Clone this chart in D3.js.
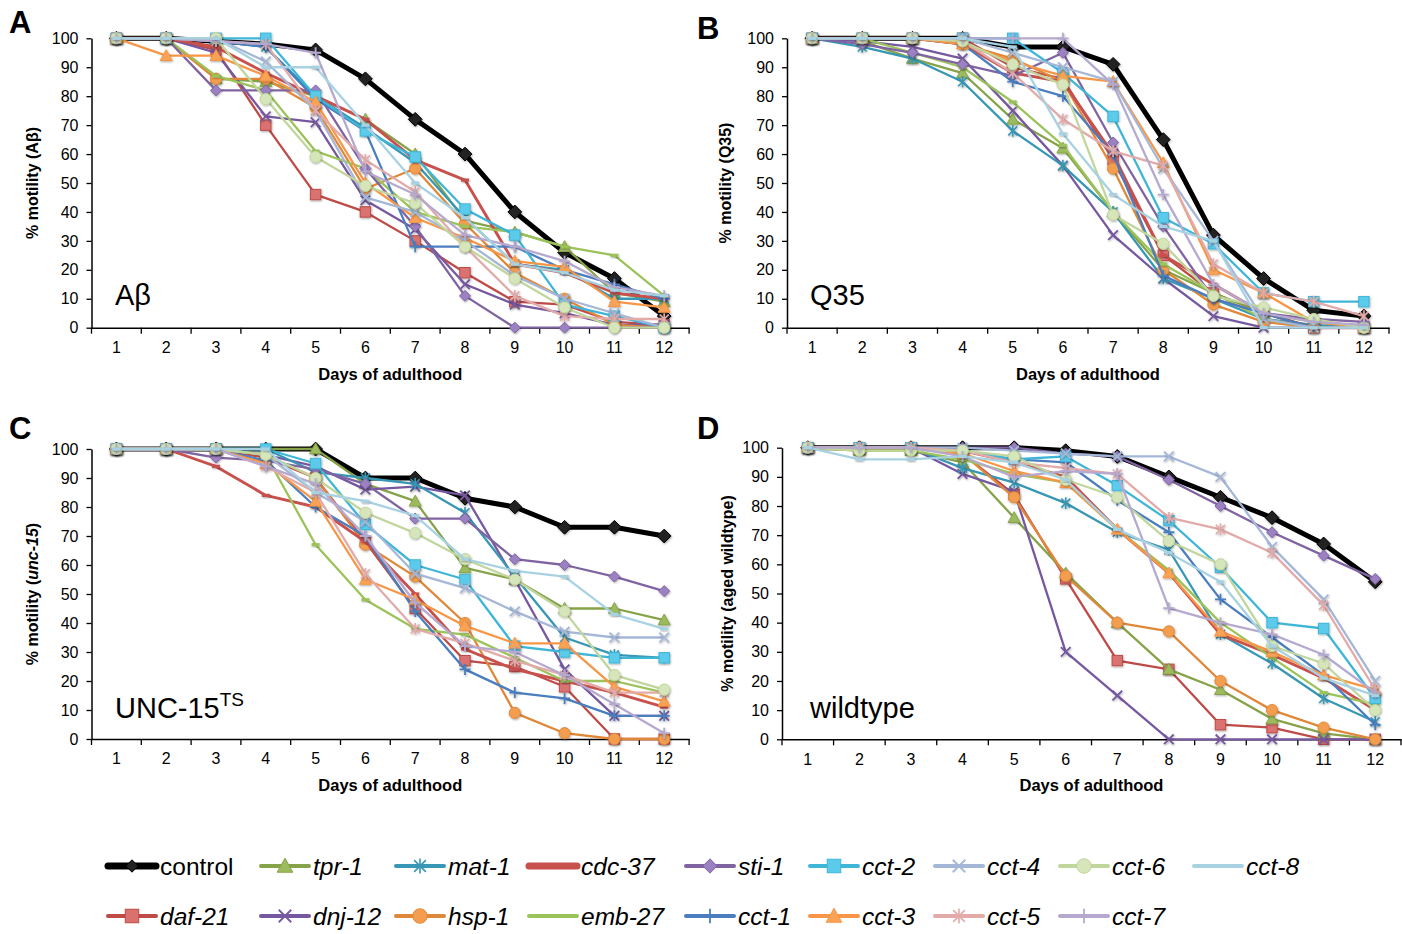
<!DOCTYPE html>
<html><head><meta charset="utf-8">
<script src="https://cdn.jsdelivr.net/npm/d3@7"></script>
<style>
body{margin:0;background:#fff;}
svg{display:block;font-family:"Liberation Sans",Arial,Helvetica,sans-serif;}
</style>
</head><body>
<svg id="chart" width="1402" height="934"></svg>
<script>
// ---------------- DATA ----------------
const days = [1,2,3,4,5,6,7,8,9,10,11,12];
const yTicks = [0,10,20,30,40,50,60,70,80,90,100];
const seriesNames = ["control","daf-21","tpr-1","dnj-12","mat-1","hsp-1","cdc-37","emb-27","sti-1","cct-1","cct-2","cct-3","cct-4","cct-5","cct-6","cct-7","cct-8"];

// Panel A (Abeta) – rows follow seriesNames
const valuesA = [
  [100,100,99,98,96,86,72,60,40,26,17,4],
  [100,100,96,70,46,40,30,19,9,8,2,1],
  [100,100,86,85,80,72,60,37,33,28,12,9],
  [100,100,95,73,71,44,34,15,8,5,1,1],
  [100,100,99,97,80,69,57,38,22,20,10,10],
  [100,100,86,86,76,48,55,36,19,10,1,0],
  [100,100,97,88,80,72,58,51,22,19,12,10],
  [100,100,87,82,61,55,40,35,33,28,25,11],
  [100,100,82,82,82,55,35,11,0,0,0,0],
  [100,100,99,97,79,68,28,28,28,20,15,10],
  [100,100,100,100,80,68,59,41,32,8,4,0],
  [100,94,94,87,78,50,38,31,23,21,9,7],
  [100,100,100,92,75,45,40,30,18,10,5,0],
  [100,100,99,98,75,58,47,28,11,4,3,3],
  [100,100,100,79,59,49,43,28,17,7,0,0],
  [100,100,99,98,95,54,46,32,28,23,14,11],
  [100,100,100,90,90,70,50,38,22,19,13,11]
];
// Panel B (Q35)
const valuesB = [
  [100,100,100,100,97,97,91,65,32,17,6,4],
  [100,100,100,100,90,86,58,25,12,5,0,0],
  [100,99,93,88,72,62,40,20,12,5,2,0],
  [100,99,97,93,75,56,32,17,4,0,0,0],
  [100,97,93,85,68,56,40,17,10,3,1,0],
  [100,100,100,98,93,85,55,20,8,2,0,0],
  [100,100,100,98,88,85,60,25,15,5,0,0],
  [100,100,95,90,78,63,40,22,12,3,0,0],
  [100,98,95,91,87,95,64,35,10,5,3,2],
  [100,100,100,98,85,80,60,18,10,5,0,0],
  [100,100,100,100,100,88,73,38,29,12,9,9],
  [100,100,100,98,92,87,85,57,20,12,2,0],
  [100,100,100,100,95,90,85,55,30,3,0,0],
  [100,100,100,99,88,72,61,56,22,12,9,4],
  [100,100,100,99,91,84,39,29,11,7,3,0],
  [100,100,100,100,100,100,84,46,15,5,2,1],
  [100,100,100,100,97,67,46,35,30,0,0,0]
];
// Panel C (UNC-15 ts)
const valuesC = [
  [100,100,100,100,100,90,90,83,80,73,73,70],
  [100,100,100,97,90,68,45,27,25,18,0,0],
  [100,100,100,100,100,88,82,59,55,45,45,41],
  [100,100,100,98,94,86,87,84,55,24,8,8],
  [100,100,100,100,92,90,88,78,56,35,29,28],
  [100,100,100,98,90,67,56,40,9,2,0,0],
  [100,100,94,84,80,68,50,31,24,20,16,11],
  [100,100,100,98,67,48,38,36,28,20,20,16],
  [100,100,97,96,93,88,76,76,62,60,56,51],
  [100,100,100,96,80,70,44,24,16,14,8,8],
  [100,100,100,100,95,74,60,55,32,30,28,28],
  [100,100,100,95,82,55,48,39,33,33,18,13],
  [100,100,100,98,85,75,57,52,44,37,35,35],
  [100,100,100,94,85,57,38,33,27,22,16,16],
  [100,100,100,98,90,78,71,62,55,44,22,17],
  [100,100,100,94,88,70,47,32,30,22,12,2],
  [100,100,100,100,85,82,77,62,58,56,43,38]
];
// Panel D (wildtype)
const valuesD = [
  [100,100,100,100,100,99,97,90,83,76,67,54],
  [100,100,100,98,84,55,27,24,5,4,0,0],
  [100,99,99,95,76,57,40,24,17,7,2,0],
  [100,100,100,91,85,30,15,0,0,0,0,0],
  [100,100,100,93,88,81,71,65,36,26,14,6],
  [100,100,100,98,83,56,40,37,20,10,4,0],
  [100,100,100,99,95,90,72,57,36,29,21,10],
  [100,99,99,96,91,88,72,58,40,28,16,12],
  [100,100,100,100,100,98,97,89,80,71,63,55],
  [100,100,100,99,96,95,82,71,48,35,22,5],
  [100,100,100,99,96,97,87,75,59,40,38,14],
  [100,100,100,98,92,88,72,57,37,30,22,17],
  [100,100,100,100,99,98,97,97,90,66,48,20],
  [100,100,100,99,95,93,91,76,72,64,46,17],
  [100,99,99,99,97,89,83,68,60,32,26,10],
  [100,100,100,97,90,92,91,45,40,36,29,16],
  [100,96,96,97,95,89,72,64,54,32,21,15]
];

// ---------------- STYLES ----------------
const styles = {
  "control":{color:"#000000",fill:"#222222",marker:"diamond",width:5,size:1.25},
  "daf-21":{color:"#BE4B48",fill:"#D9726F",marker:"square",width:2.3},
  "tpr-1":{color:"#87A34A",fill:"#9CBB5C",marker:"triangle",width:2.3},
  "dnj-12":{color:"#7658A0",marker:"x",width:2.3},
  "mat-1":{color:"#3797B4",marker:"asterisk",width:2.3},
  "hsp-1":{color:"#E0883A",fill:"#F39D50",marker:"circle",width:2.3},
  "cdc-37":{color:"#C8504D",marker:"dash",width:2.9},
  "emb-27":{color:"#9BC35A",marker:"dash",width:2.3},
  "sti-1":{color:"#8064A2",fill:"#9B80C2",marker:"diamond",width:2.3},
  "cct-1":{color:"#4A7EBF",marker:"plus",width:2.3},
  "cct-2":{color:"#3FB6D8",fill:"#5CCAEA",marker:"square",width:2.3},
  "cct-3":{color:"#F79646",fill:"#FAA357",marker:"triangle",width:2.3},
  "cct-4":{color:"#A5B7D7",marker:"x",width:2.3},
  "cct-5":{color:"#E2ABA9",marker:"asterisk",width:2.3},
  "cct-6":{color:"#C1D69C",fill:"#D6E6BA",marker:"circle",width:2.3},
  "cct-7":{color:"#B5A9CF",marker:"plus",width:2.3},
  "cct-8":{color:"#A8D2E2",marker:"dash",width:2.3}
};

const panels = [
  {letter:"A", values:valuesA, left:91.5, top:38.3, bottom:327.7, width:597.6,
   letterX:9, letterY:33, yTitleX:38, yTitle:[["% motility (Aβ)",false]], inset:"Aβ", insetX:115, insetY:305},
  {letter:"B", values:valuesB, left:787, top:38.3, bottom:327.7, width:602,
   letterX:697, letterY:39, yTitleX:731, yTitle:[["% motility (Q35)",false]], inset:"Q35", insetX:810, insetY:305},
  {letter:"C", values:valuesC, left:91.5, top:449, bottom:739, width:597.6,
   letterX:9, letterY:439, yTitleX:38, yTitle:[["% motility (",false],["unc-15",true],[")",false]], inset:"UNC-15", insetSup:"TS", insetX:115, insetY:718},
  {letter:"D", values:valuesD, left:782, top:447.7, bottom:739.3, width:619,
   letterX:697, letterY:439, yTitleX:733, yTitle:[["% motility (aged wildtype)",false]], inset:"wildtype", insetX:810, insetY:718}
];

const svg = d3.select("#chart");
const defs = svg.append("defs");
const flt = defs.append("filter").attr("id","shadow").attr("x","-50%").attr("y","-50%").attr("width","200%").attr("height","200%");
flt.append("feDropShadow").attr("dx",0.6).attr("dy",1).attr("stdDeviation",0.9).attr("flood-color","#000").attr("flood-opacity",0.35);

function drawMarker(g, st, scale){
  const k = (st.size||1)*scale;
  const c = st.color, f = st.fill||st.color;
  switch(st.marker){
    case "diamond":
      g.append("path").attr("d",`M0,${-5.5*k}L${5.5*k},0L0,${5.5*k}L${-5.5*k},0Z`).attr("fill",f).attr("stroke",c).attr("stroke-width",1); break;
    case "square":
      g.append("rect").attr("x",-5.2*k).attr("y",-5.2*k).attr("width",10.4*k).attr("height",10.4*k).attr("fill",f).attr("stroke",c).attr("stroke-width",1); break;
    case "triangle":
      g.append("path").attr("d",`M0,${-6*k}L${6*k},${4.8*k}L${-6*k},${4.8*k}Z`).attr("fill",f).attr("stroke",c).attr("stroke-width",1); break;
    case "circle":
      g.append("circle").attr("r",5.6*k).attr("fill",f).attr("stroke",c).attr("stroke-width",1); break;
    case "x":
      g.append("path").attr("d",`M${-4.8*k},${-4.8*k}L${4.8*k},${4.8*k}M${-4.8*k},${4.8*k}L${4.8*k},${-4.8*k}`).attr("stroke",c).attr("stroke-width",1.8).attr("fill","none"); break;
    case "plus":
      g.append("path").attr("d",`M${-5.5*k},0L${5.5*k},0M0,${-5.5*k}L0,${5.5*k}`).attr("stroke",c).attr("stroke-width",1.8).attr("fill","none"); break;
    case "asterisk":
      g.append("path").attr("d",`M${-4.5*k},${-4.5*k}L${4.5*k},${4.5*k}M${-4.5*k},${4.5*k}L${4.5*k},${-4.5*k}M0,${-5.8*k}L0,${5.8*k}`).attr("stroke",c).attr("stroke-width",1.6).attr("fill","none"); break;
    case "dash":
      g.append("rect").attr("x",-4*k).attr("y",-1.6*k).attr("width",8*k).attr("height",3.2*k).attr("fill",c); break;
  }
}

panels.forEach(p => {
  const x = d3.scaleBand().domain(days).range([p.left, p.left + p.width]);
  const y = d3.scaleLinear().domain([0,100]).range([p.bottom, p.top]);
  const g = svg.append("g");

  // y axis
  const yAxis = d3.axisLeft(y).tickValues(yTicks).tickSize(5).tickPadding(8).tickSizeOuter(0);
  const ya = g.append("g").attr("transform",`translate(${p.left},0)`).call(yAxis);
  ya.select(".domain").attr("stroke","#000").attr("stroke-width",1.5);
  ya.selectAll(".tick line").attr("stroke","#000").attr("stroke-width",1.3);
  ya.selectAll(".tick text").attr("font-size",16).attr("fill","#000").attr("font-family","'Liberation Sans',Arial,sans-serif");

  // x axis (category, ticks between categories)
  const xAxis = d3.axisBottom(x).tickSize(0).tickPadding(14);
  const xa = g.append("g").attr("transform",`translate(0,${p.bottom})`).call(xAxis);
  xa.select(".domain").attr("stroke","#000").attr("stroke-width",1.5);
  xa.selectAll(".tick text").attr("font-size",16).attr("fill","#000").attr("font-family","'Liberation Sans',Arial,sans-serif");
  const bounds = days.map(d => x(d)).concat([p.left + p.width]);
  g.selectAll(".xtick").data(bounds).enter().append("line")
    .attr("x1",d=>d).attr("x2",d=>d).attr("y1",p.bottom).attr("y2",p.bottom+6)
    .attr("stroke","#000").attr("stroke-width",1.3);

  // axis titles
  g.append("text").attr("x", p.left + p.width/2).attr("y", p.bottom + 52)
    .attr("text-anchor","middle").attr("font-size",16.5).attr("font-weight","bold").text("Days of adulthood");
  const yt = g.append("text").attr("transform",`translate(${p.yTitleX},${(p.top+p.bottom)/2}) rotate(-90)`)
    .attr("text-anchor","middle").attr("font-size",16).attr("font-weight","bold");
  p.yTitle.forEach(([t,it]) => yt.append("tspan").attr("font-style", it?"italic":"normal").text(t));

  // panel letter
  g.append("text").attr("x",p.letterX).attr("y",p.letterY).attr("font-size",31).attr("font-weight","bold").text(p.letter);
  // inset label
  const it = g.append("text").attr("x",p.insetX).attr("y",p.insetY).attr("font-size",29).text(p.inset);
  if (p.insetSup) it.append("tspan").attr("font-size",19).attr("dy",-12).text(p.insetSup);

  // series
  const line = d3.line().x((d,i)=>x(days[i]) + x.bandwidth()/2).y(d=>y(d));
  seriesNames.forEach((name, si) => {
    const st = styles[name];
    const vals = p.values[si];
    const sg = g.append("g");
    sg.append("path").attr("d", line(vals)).attr("fill","none").attr("stroke",st.color)
      .attr("stroke-width",st.width).attr("stroke-linejoin","round");
    vals.forEach((v,i) => {
      const mg = sg.append("g").attr("transform",`translate(${x(days[i]) + x.bandwidth()/2},${y(v)})`).attr("filter","url(#shadow)");
      drawMarker(mg, st, 1);
    });
  });
});

// ---------------- LEGEND ----------------
const legendRow1 = ["control","tpr-1","mat-1","cdc-37","sti-1","cct-2","cct-4","cct-6","cct-8"];
const legendRow2 = ["daf-21","dnj-12","hsp-1","emb-27","cct-1","cct-3","cct-5","cct-7"];
const legendCols = [108,261,396,529,686,810,935,1060,1194];
const legendRowsY = [866,916];
[legendRow1, legendRow2].forEach((row, ri) => {
  row.forEach((name, ci) => {
    const st = styles[name];
    const lx = legendCols[ci], ly = legendRowsY[ri];
    const lg = svg.append("g");
    const w = (name==="control"||name==="cdc-37") ? 7 : 4;
    lg.append("line").attr("x1",lx).attr("x2",lx+48).attr("y1",ly).attr("y2",ly)
      .attr("stroke",st.color).attr("stroke-width",w).attr("stroke-linecap","round");
    if (st.marker !== "dash") {
      const mg = lg.append("g").attr("transform",`translate(${lx+24},${ly})`);
      drawMarker(mg, st, name==="control" ? 0.9 : 1.3);
    }
    lg.append("text").attr("x",lx+52).attr("y",ly+8.5).attr("font-size",24.5)
      .attr("font-style", name==="control" ? "normal" : "italic").text(name);
  });
});
</script>
</body></html>
